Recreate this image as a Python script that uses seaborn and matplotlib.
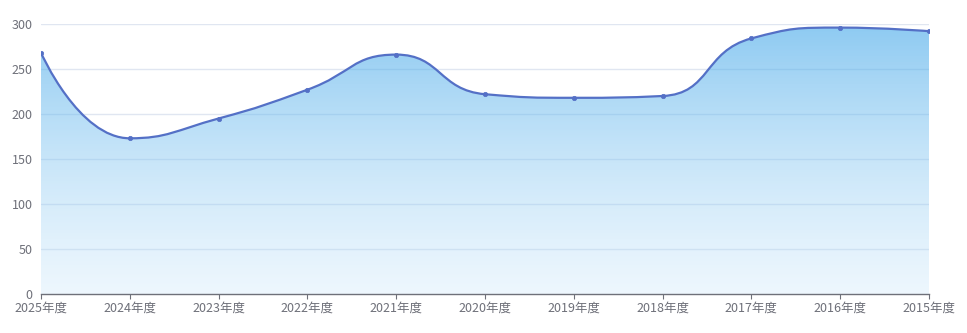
import numpy as np
import pandas as pd
import matplotlib
matplotlib.use("Agg")
import matplotlib.pyplot as plt
from matplotlib.path import Path
from matplotlib.patches import PathPatch
import seaborn as sns

categories = ["2025年度", "2024年度", "2023年度", "2022年度", "2021年度", "2020年度",
              "2019年度", "2018年度", "2017年度", "2016年度", "2015年度"]
values = [268, 173, 195, 227, 266, 222, 218, 220, 284, 296, 292]
y_ticks = [0, 50, 100, 150, 200, 250, 300]

sns.set_theme(style="white")
plt.rcParams['font.family'] = ['Noto Sans CJK SC', 'DejaVu Sans']

W, H = 967, 333
fig = plt.figure(figsize=(W / 100, H / 100), dpi=100)
ax_l, ax_b, ax_w, ax_h = 41, 39, 888, 270
ax = fig.add_axes([ax_l / W, ax_b / H, ax_w / W, ax_h / H])

df = pd.DataFrame({"x": np.arange(len(categories)), "cat": categories, "v": values})
ax.set_xlim(0, len(categories) - 1)
ax.set_ylim(0, 300)

# pixel-space helpers (ECharts-like smooth curve)
sx = ax_w / (len(categories) - 1)
sy = ax_h / 300.0
px = df["x"].to_numpy() * sx
py = -df["v"].to_numpy(dtype=float) * sy


def smooth_path(xs, ys, smooth=0.5):
    verts = [(xs[0], ys[0])]
    codes = [Path.MOVETO]
    cpx0, cpy0 = xs[0], ys[0]
    n = len(xs)
    for i in range(1, n):
        x, y = xs[i], ys[i]
        prevX, prevY = xs[i - 1], ys[i - 1]
        if i + 1 >= n:
            cpx1, cpy1 = x, y
            ncx, ncy = x, y
        else:
            nextX, nextY = xs[i + 1], ys[i + 1]
            vx, vy = nextX - prevX, nextY - prevY
            lp = np.hypot(x - prevX, y - prevY)
            ln = np.hypot(nextX - x, nextY - y)
            r = ln / (ln + lp)
            ncx = x + vx * smooth * r
            ncy = y + vy * smooth * r
            ncx = max(min(ncx, max(nextX, x)), min(nextX, x))
            ncy = max(min(ncy, max(nextY, y)), min(nextY, y))
            vx, vy = ncx - x, ncy - y
            cpx1 = x - vx * lp / ln
            cpy1 = y - vy * lp / ln
            cpx1 = max(min(cpx1, max(prevX, x)), min(prevX, x))
            cpy1 = max(min(cpy1, max(prevY, y)), min(prevY, y))
            vx, vy = x - cpx1, y - cpy1
            ncx = x + vx * ln / lp
            ncy = y + vy * ln / lp
        verts += [(cpx0, cpy0), (cpx1, cpy1), (x, y)]
        codes += [Path.CURVE4] * 3
        cpx0, cpy0 = ncx, ncy
    return verts, codes


verts, codes = smooth_path(px, py)
verts = [(vx / sx, -vy / sy) for vx, vy in verts]  # back to data coords
line_path = Path(verts, codes)

area_verts = verts + [(len(categories) - 1, 0), (0, 0), (0, 0)]
area_codes = codes + [Path.LINETO, Path.LINETO, Path.CLOSEPOLY]
area_path = Path(area_verts, area_codes)

# grid
for t in y_ticks[1:]:
    ax.axhline(t, color="#e0e6f1", lw=1, zorder=0)

# gradient fill
grad = np.zeros((256, 1, 4))
top = np.array([67, 168, 233]) / 255
bot = np.array([190, 225, 250]) / 255
tt = np.linspace(1, 0, 256)[:, None]
grad[:, 0, :3] = bot + (top - bot) * tt
grad[:, 0, 3] = (0.27 + (0.6 - 0.27) * tt)[:, 0]
im = ax.imshow(grad, extent=[0, len(categories) - 1, 0, max(values)], aspect="auto",
               origin="upper", zorder=1, interpolation="bilinear")
clip = PathPatch(area_path, transform=ax.transData, facecolor="none", edgecolor="none")
ax.add_patch(clip)
im.set_clip_path(clip)

# line
ax.add_patch(PathPatch(line_path, facecolor="none", edgecolor="#5470c6", lw=1.6,
                       zorder=3, capstyle="round", joinstyle="round"))
sns.scatterplot(data=df, x="x", y="v", ax=ax, color="#5470c6", s=10,
                edgecolor="#5470c6", linewidth=0.5, zorder=4, legend=False)

ax.set_xlim(0, len(categories) - 1)
ax.set_ylim(0, 300)
ax.set_xticks(df["x"])
ax.set_xticklabels(categories)
ax.set_yticks(y_ticks)
ax.set_yticklabels([str(t) for t in y_ticks])
ax.set_xlabel("")
ax.set_ylabel("")
for s in ["top", "right", "left"]:
    ax.spines[s].set_visible(False)
ax.spines["bottom"].set_color("#6e7079")
ax.spines["bottom"].set_linewidth(1)
ax.spines["bottom"].set_zorder(5)
ax.tick_params(axis="x", which="major", bottom=True, length=3.75, width=0.8,
               color="#6e7079", labelcolor="#6e7079", labelsize=9, pad=1.5)
ax.tick_params(axis="y", which="major", left=False, length=0,
               labelcolor="#6e7079", labelsize=9, pad=6)
ax.grid(False)

fig.savefig("out.png", dpi=100)
